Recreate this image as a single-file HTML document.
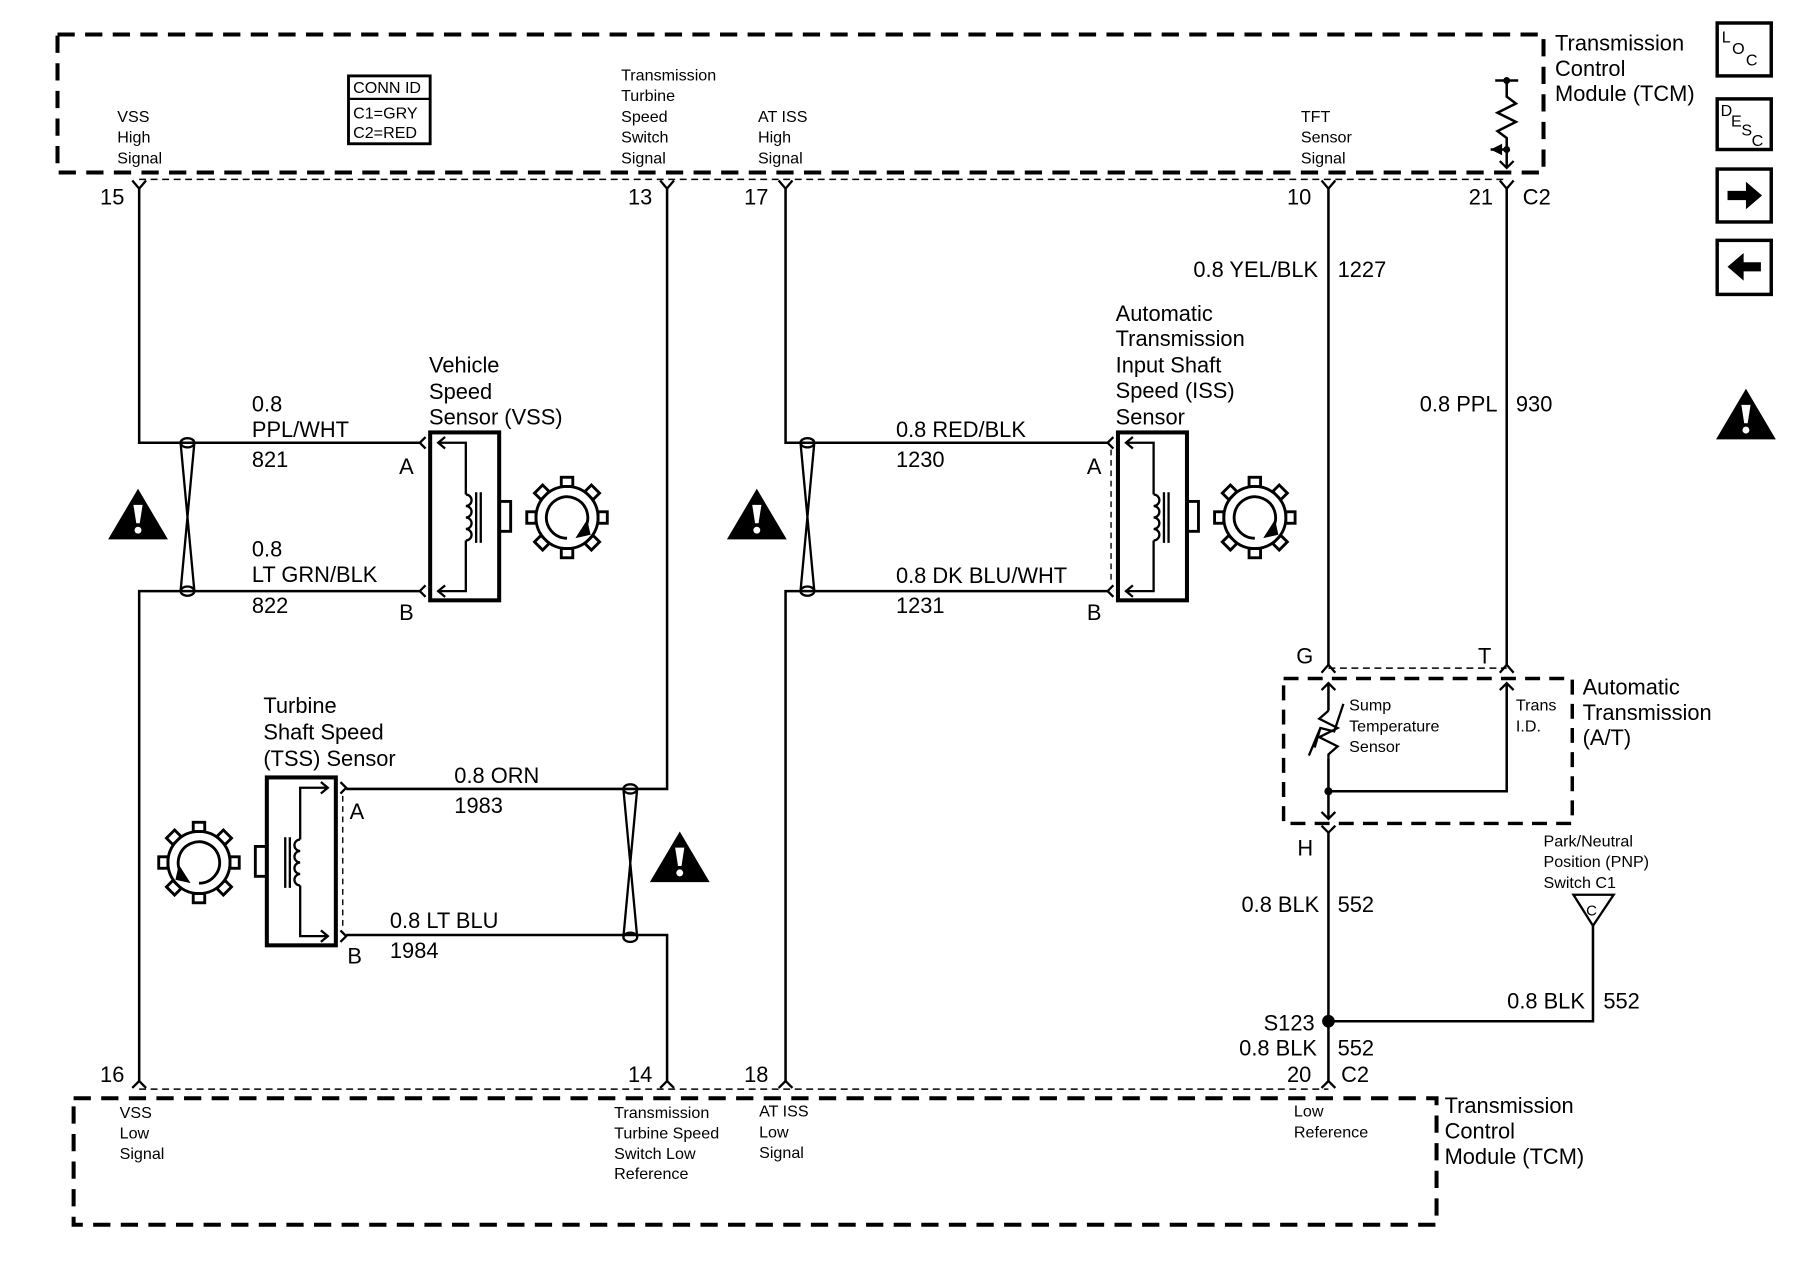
<!DOCTYPE html>
<html><head><meta charset="utf-8"><style>
html,body{margin:0;padding:0;background:#fff;}
svg{display:block;}
text{font-family:"Liberation Sans",sans-serif;fill:#000;}
.l{font-size:19px;}
.s{font-size:14px;}
</style></head><body>
<svg width="1800" height="1280" viewBox="0 0 1565 1113" preserveAspectRatio="none" xmlns="http://www.w3.org/2000/svg">
<defs>
<g id="gear" fill="none" stroke="#000" stroke-width="2.5">
  <circle cx="0" cy="0" r="27" fill="#fff"/>
  <g fill="#fff">
    <rect x="-5" y="-35" width="10" height="8"/>
    <rect x="-5" y="-35" width="10" height="8" transform="rotate(45)"/>
    <rect x="-5" y="-35" width="10" height="8" transform="rotate(90)"/>
    <rect x="-5" y="-35" width="10" height="8" transform="rotate(135)"/>
    <rect x="-5" y="-35" width="10" height="8" transform="rotate(180)"/>
    <rect x="-5" y="-35" width="10" height="8" transform="rotate(225)"/>
    <rect x="-5" y="-35" width="10" height="8" transform="rotate(270)"/>
    <rect x="-5" y="-35" width="10" height="8" transform="rotate(315)"/>
  </g>
  <path d="M0,18 A18,18 0 1,1 15,10"/>
  <path d="M10,16 L17,5 L19,14 Z" fill="#000"/>
</g>
<g id="sensor" fill="none" stroke="#000">
  <rect x="0" y="0" width="60" height="146" stroke-width="3.5"/>
  <path d="M7,9 H31 V54 M31,94 V138 H7" stroke-width="2"/>
  <path d="M13,4 L7,9 L13,14 M13,133 L7,138 L13,143" stroke-width="2"/>
  <path d="M-4,4 L-9,9 L-4,14 M-4,133 L-9,138 L-4,143" stroke-width="2"/>
  <path d="M31,54 a5,5 0 0,1 0,10 a5,5 0 0,1 0,10 a5,5 0 0,1 0,10 a5,5 0 0,1 0,10" stroke-width="2"/>
  <path d="M40,52 V96 M44,52 V96" stroke-width="2"/>
  <rect x="60" y="60" width="10" height="26" stroke-width="2.5"/>
  <use href="#gear" x="119" y="74"/>
</g>
<g id="warn"><path d="M0,-22 L26,22 L-26,22 Z" fill="#000"/><path d="M-4,-8 L4,-8 L1.5,8 L-1.5,8 Z" fill="#fff"/><circle cx="0" cy="14" r="3" fill="#fff"/></g>
<g id="twist" fill="none" stroke="#000" stroke-width="2"><path d="M-6,0 L6,129 M6,0 L-6,129"/><ellipse cx="0" cy="0" rx="6" ry="4"/><ellipse cx="0" cy="129" rx="6" ry="4"/></g>
</defs>

<g fill="none" stroke="#000">
<!-- top TCM box -->
<path d="M50,30 H1342 V150 H50 Z" stroke-width="3.5" stroke-dasharray="15,9"/>
<path d="M121,156 H1310" stroke-width="1.3" stroke-dasharray="6,4"/>
<!-- bottom TCM box -->
<path d="M64,955 H1249 V1065 H64 Z" stroke-width="3.5" stroke-dasharray="15,9"/>
<path d="M121,947 H1155" stroke-width="1.3" stroke-dasharray="6,4"/>
<!-- A/T box -->
<path d="M1116,590 H1367 V716 H1116 Z" stroke-width="3" stroke-dasharray="13,8"/>
<path d="M1155,581 H1310" stroke-width="1.3" stroke-dasharray="6,4"/>

<g stroke-width="2.2">
<!-- VSS -->
<path d="M121,164 V385 H366 M366,514 H121 V940"/>
<!-- TSS -->
<path d="M580,164 V686 H301 M301,813 H580 V940"/>
<!-- ISS -->
<path d="M683,164 V385 H964 M964,514 H683 V940"/>
<!-- right -->
<path d="M1155,164 V578 M1310,164 V578"/>
<path d="M1155,594 V618 M1155,660 V712 M1155,688 H1310 V594"/>
<path d="M1155,724 V940 M1155,888 H1385 V805"/>
<path d="M1300,70 H1320 M1310,70 V84 l8,6 l-16,8 l16,8 l-16,8 l8,6 V146 M1310,130 H1296"/>
</g>
<!-- top pin forks -->
<g stroke-width="2">
<path d="M115,157 L121,164 L127,157 M574,157 L580,164 L586,157 M677,157 L683,164 L689,157 M1149,157 L1155,164 L1161,157 M1304,157 L1310,164 L1316,157"/>
<path d="M115,946 L121,940 L127,946 M574,946 L580,940 L586,946 M677,946 L683,940 L689,946 M1149,946 L1155,940 L1161,946"/>
<path d="M1149,585 L1155,578 L1161,585 M1304,585 L1310,578 L1316,585"/>
<path d="M1149,600 L1155,594 L1161,600 M1304,600 L1310,594 L1316,600"/>
<path d="M1149,706 L1155,712 L1161,706 M1149,718 L1155,724 L1161,718"/>
<path d="M1304,140 L1310,146 L1316,140"/>
<path d="M1138,657 L1148,633 L1160,636 L1168,612 M1148,633 L1143,650"/>
</g>
<path d="M1155,618 l-8,7 l16,8 l-16,8 l16,8 l-8,7 V660" stroke-width="2"/>
<path d="M1368,778 H1403 L1385,805 Z" stroke-width="2"/>
<!-- dashed inside sensor -->
<path d="M966,391 V508 M298,692 V807" stroke-width="1.2" stroke-dasharray="5,4"/>
</g>
<path d="M1296,130 l10,-5 v10 z" fill="#000"/>
<circle cx="1310" cy="70" r="3"/><circle cx="1310" cy="130" r="3"/>
<circle cx="1155" cy="688" r="3.5"/>
<circle cx="1155" cy="888" r="5.5"/>

<use href="#sensor" x="374" y="376"/>
<use href="#sensor" x="972" y="376"/>
<use href="#sensor" transform="translate(292,676) scale(-1,1)"/>
<use href="#twist" x="163" y="385"/>
<use href="#twist" x="702" y="385"/>
<use href="#twist" x="548" y="686"/>
<use href="#warn" x="120" y="447"/>
<use href="#warn" x="658" y="447"/>
<use href="#warn" x="591" y="745"/>
<use href="#warn" x="1518" y="360"/>

<!-- conn id -->
<rect x="303" y="66" width="71" height="59" fill="none" stroke="#000" stroke-width="2.5"/>
<line x1="303" y1="86" x2="374" y2="86" stroke="#000" stroke-width="2"/>
<text class="s" x="307" y="81">CONN ID</text>
<text class="s" x="307" y="103">C1=GRY</text>
<text class="s" x="307" y="120">C2=RED</text>

<!-- icons -->
<g fill="none" stroke="#000" stroke-width="3">
<rect x="1493" y="20" width="47" height="46"/><rect x="1493" y="86" width="47" height="44"/>
<rect x="1493" y="147" width="47" height="46"/><rect x="1493" y="209" width="47" height="47"/>
</g>
<text x="1497" y="37" style="font-size:14px">L</text><text x="1506" y="47" style="font-size:14px">O</text><text x="1518" y="57" style="font-size:14px">C</text>
<text x="1496" y="101" style="font-size:14px">D</text><text x="1505" y="110" style="font-size:14px">E</text><text x="1514" y="118" style="font-size:14px">S</text><text x="1523" y="127" style="font-size:14px">C</text>
<path d="M1502,166 H1518 V158 L1532,170 L1518,182 V174 H1502 Z"/>
<path d="M1531,228 H1516 V220 L1502,232 L1516,244 V236 H1531 Z"/>

<!-- top labels -->
<g class="s">
<text x="102" y="106">VSS</text><text x="102" y="124">High</text><text x="102" y="142">Signal</text>
<text x="540" y="70">Transmission</text><text x="540" y="88">Turbine</text><text x="540" y="106">Speed</text><text x="540" y="124">Switch</text><text x="540" y="142">Signal</text>
<text x="659" y="106">AT ISS</text><text x="659" y="124">High</text><text x="659" y="142">Signal</text>
<text x="1131" y="106">TFT</text><text x="1131" y="124">Sensor</text><text x="1131" y="142">Signal</text>
<text x="104" y="972">VSS</text><text x="104" y="990">Low</text><text x="104" y="1008">Signal</text>
<text x="534" y="972">Transmission</text><text x="534" y="990">Turbine Speed</text><text x="534" y="1008">Switch Low</text><text x="534" y="1025">Reference</text>
<text x="660" y="971">AT ISS</text><text x="660" y="989">Low</text><text x="660" y="1007">Signal</text>
<text x="1125" y="971">Low</text><text x="1125" y="989">Reference</text>
<text x="1173" y="618">Sump</text><text x="1173" y="636">Temperature</text><text x="1173" y="654">Sensor</text>
<text x="1318" y="618">Trans</text><text x="1318" y="636">I.D.</text>
<text x="1342" y="736">Park/Neutral</text><text x="1342" y="754">Position (PNP)</text><text x="1342" y="772">Switch C1</text>
</g>
<text x="1379" y="796" style="font-size:13px">C</text>

<g class="l">
<text x="1352" y="44">Transmission</text><text x="1352" y="66">Control</text><text x="1352" y="88">Module (TCM)</text>
<text x="1256" y="968">Transmission</text><text x="1256" y="990">Control</text><text x="1256" y="1012">Module (TCM)</text>
<text x="1376" y="604">Automatic</text><text x="1376" y="626">Transmission</text><text x="1376" y="648">(A/T)</text>
<text x="87" y="178">15</text><text x="546" y="178">13</text><text x="647" y="178">17</text><text x="1119" y="178">10</text><text x="1277" y="178">21</text><text x="1324" y="178">C2</text>
<text x="87" y="941">16</text><text x="546" y="941">14</text><text x="647" y="941">18</text><text x="1119" y="941">20</text><text x="1166" y="941">C2</text>
<text x="373" y="324">Vehicle</text><text x="373" y="347">Speed</text><text x="373" y="369">Sensor (VSS)</text>
<text x="219" y="358">0.8</text><text x="219" y="380">PPL/WHT</text><text x="219" y="406">821</text><text x="347" y="412">A</text>
<text x="219" y="484">0.8</text><text x="219" y="506">LT GRN/BLK</text><text x="219" y="533">822</text><text x="347" y="539">B</text>
<text x="970" y="279">Automatic</text><text x="970" y="301">Transmission</text><text x="970" y="324">Input Shaft</text><text x="970" y="346">Speed (ISS)</text><text x="970" y="369">Sensor</text>
<text x="779" y="380">0.8 RED/BLK</text><text x="779" y="406">1230</text><text x="945" y="412">A</text>
<text x="779" y="507">0.8 DK BLU/WHT</text><text x="779" y="533">1231</text><text x="945" y="539">B</text>
<text x="229" y="620">Turbine</text><text x="229" y="643">Shaft Speed</text><text x="229" y="666">(TSS) Sensor</text>
<text x="395" y="681">0.8 ORN</text><text x="395" y="707">1983</text><text x="304" y="712">A</text>
<text x="339" y="807">0.8 LT BLU</text><text x="339" y="833">1984</text><text x="302" y="838">B</text>
<text x="1146" y="241" text-anchor="end">0.8 YEL/BLK</text><text x="1163" y="241">1227</text>
<text x="1302" y="358" text-anchor="end">0.8 PPL</text><text x="1318" y="358">930</text>
<text x="1127" y="577">G</text><text x="1285" y="577">T</text><text x="1128" y="744">H</text>
<text x="1147" y="793" text-anchor="end">0.8 BLK</text><text x="1163" y="793">552</text>
<text x="1378" y="877" text-anchor="end">0.8 BLK</text><text x="1394" y="877">552</text>
<text x="1143" y="896" text-anchor="end">S123</text>
<text x="1145" y="918" text-anchor="end">0.8 BLK</text><text x="1163" y="918">552</text>
</g>
</svg>
</body></html>
